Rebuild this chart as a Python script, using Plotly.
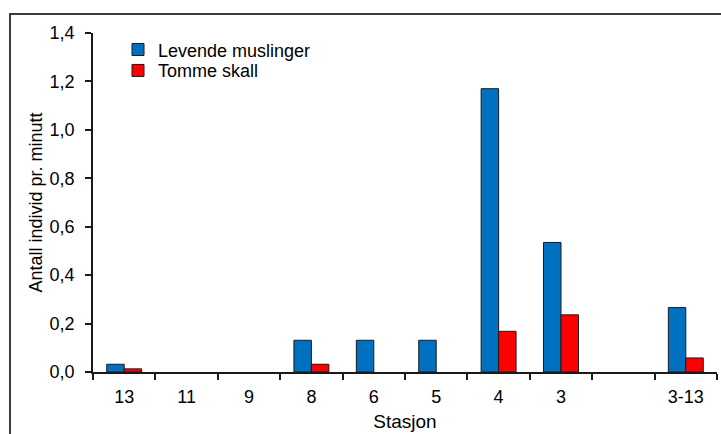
import plotly.graph_objects as go

stations = ["13", "11", "9", "8", "6", "5", "4", "3", "\u00a0", "3-13"]
levende = [0.032, 0, 0, 0.131, 0.131, 0.131, 1.17, 0.535, None, 0.266]
tomme = [0.013, 0, 0, 0.032, 0, 0, 0.168, 0.236, None, 0.058]

FONT = "Liberation Sans, Arial, sans-serif"
W, H = 721, 434
L, R, T, B = 93, 4, 32.5, 62
pw = W - L - R
ph = H - T - B


def outline_widths(vals):
    return [0 if (v is None or v == 0) else 1 for v in vals]


fig = go.Figure()
fig.add_trace(go.Bar(x=stations, y=levende, name="Levende muslinger",
                     marker=dict(color="#0070C0",
                                 line=dict(color="#1a1a1a", width=outline_widths(levende))),
                     legend="legend"))
fig.add_trace(go.Bar(x=stations, y=tomme, name="Tomme skall",
                     marker=dict(color="#FF0000",
                                 line=dict(color="#1a1a1a", width=outline_widths(tomme))),
                     legend="legend2"))


def px_x(x):
    return (x - L) / pw


def px_y(y):
    return 1 - (y - T) / ph


FS = 18
leg_common = dict(font=dict(family=FONT, size=FS, color="black"),
                  bgcolor="rgba(0,0,0,0)", borderwidth=0,
                  xanchor="left", yanchor="middle", itemwidth=30)

fig.update_layout(
    width=W, height=H,
    margin=dict(l=L, r=R, t=T, b=B),
    paper_bgcolor="white", plot_bgcolor="white",
    font=dict(family=FONT, size=FS, color="black"),
    separators=", ",
    barmode="group", bargap=0.44, bargroupgap=0,
    showlegend=True,
    legend=dict(x=px_x(118), y=px_y(49.3), **leg_common),
    legend2=dict(x=px_x(118), y=px_y(70.3), **leg_common),
    xaxis=dict(
        type="category", categoryorder="array", categoryarray=stations,
        showline=True, linecolor="#1a1a1a", linewidth=1.5,
        ticks="outside", ticklen=6, tickcolor="#1a1a1a", tickwidth=1.5, tickson="boundaries",
        showgrid=False, zeroline=False, ticklabelstandoff=8,
        tickfont=dict(family=FONT, size=FS, color="black"),
        title=dict(text="Stasjon", font=dict(family=FONT, size=19, color="black"), standoff=8),
        automargin=False,
    ),
    yaxis=dict(
        range=[0, 1.4], dtick=0.2, tickformat=".1f",
        showline=True, linecolor="#1a1a1a", linewidth=1.5,
        ticks="outside", ticklen=6, tickcolor="#1a1a1a", tickwidth=1.5,
        showgrid=False, zeroline=False, ticklabelstandoff=7,
        tickfont=dict(family=FONT, size=FS, color="black"),
        title=dict(text="Antall individ pr. minutt", font=dict(family=FONT, size=18, color="black"), standoff=2),
        automargin=False,
    ),
    shapes=[dict(type="rect", xref="paper", yref="paper",
                 x0=px_x(10), x1=px_x(740), y0=px_y(460), y1=px_y(13.5),
                 line=dict(color="#3a3a3a", width=2), fillcolor="rgba(0,0,0,0)", layer="below")],
)

fig.write_html("out.html", config={"displayModeBar": False},
               post_script="document.body.style.margin='0';")
